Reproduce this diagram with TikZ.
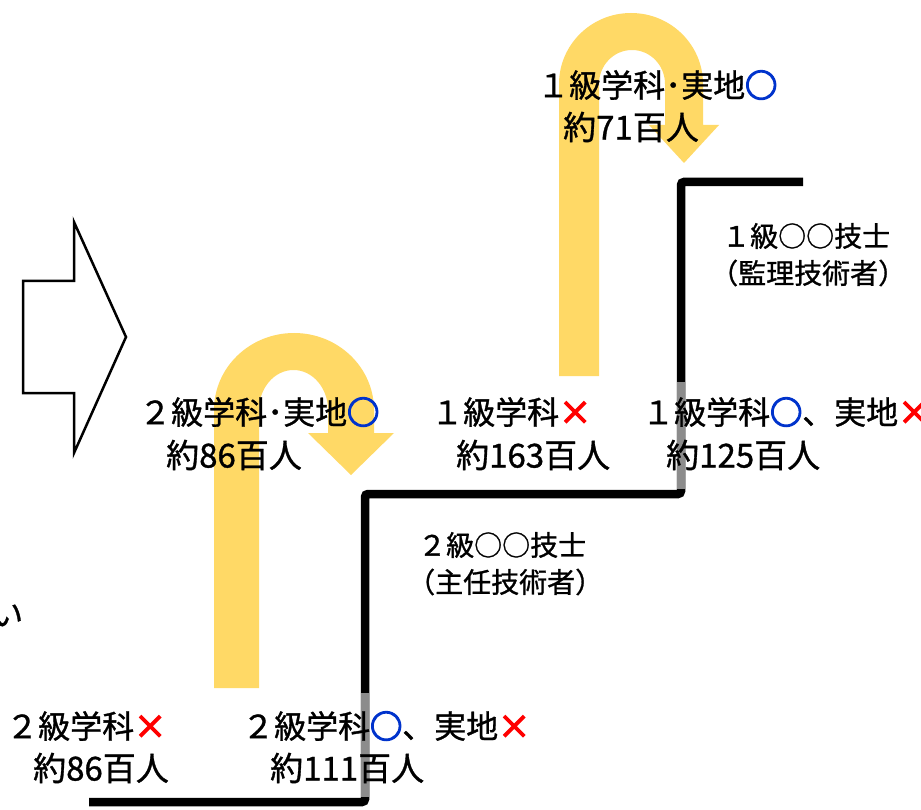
\documentclass[tikz,border=0pt]{standalone}
\usepackage{fontspec}
\setmainfont{Noto Sans CJK JP}[FakeBold=1]
\newfontfamily\jpb[FakeBold=5]{Noto Sans CJK JP}
\definecolor{ublue}{RGB}{0,51,204}
\definecolor{ured}{RGB}{255,0,0}
\definecolor{uyel}{RGB}{255,217,102}
\definecolor{ugray}{RGB}{140,140,140}
\newcommand{\okmark}{{\jpb\color{ublue}○}}
\newcommand{\ngmark}{{\jpb\color{ured}×}}
\begin{document}
\begin{tikzpicture}[x=1pt,y=-1pt,
  cnt/.style={anchor=west,inner sep=0pt,font=\fontsize{32}{38}\selectfont},
  cnttwo/.style={anchor=west,inner sep=0pt,font=\fontsize{33}{39}\selectfont},
  tag/.style={anchor=west,inner sep=0pt,font=\fontsize{28}{33}\selectfont},
  stair/.style={line width=8.5pt,rounded corners=3pt,line cap=butt},
  uturn/.style={fill=uyel,draw=none}]
\useasboundingbox[fill=white] (0,0) rectangle (921,810);
% outline arrow
\draw[line width=2.5pt,fill=white,line join=miter] (23,281) -- (74,281) -- (74,222) -- (126,337) -- (74,453) -- (74,393) -- (23,393) -- cycle;
% stair
\draw[stair] (89,802) -- (365,802) -- (365,494) -- (681,494) -- (681,182) -- (803,182);
\draw[ugray,line width=8.5pt] (365,693) -- (365,797);
\draw[ugray,line width=8.5pt] (681,382) -- (681,489);
% U-turn arrows
\fill[uturn] (214,688) -- (214,410) arc[start angle=180,end angle=0,x radius=80pt,y radius=77pt] -- (374,433) -- (394,433) -- (351,475) -- (308,433) -- (328,433) -- (328,410) arc[start angle=0,end angle=180,x radius=34.5pt,y radius=40pt] -- (259,688) -- cycle;
\fill[uturn] (559,376) -- (559,84) arc[start angle=180,end angle=0,x radius=72pt,y radius=71pt] -- (703,125) -- (719,125) -- (684,163) -- (649,125) -- (665,125) -- (665,84) arc[start angle=0,end angle=180,x radius=33pt,y radius=34pt] -- (599,376) -- cycle;
% count labels
\node[cnt] (a1) at (6,726) {２級学科\ngmark};
\node[cnttwo] (a2) at (33,768) {約86百人};
\node[cnt] (b1) at (242,726) {２級学科\okmark、実地\ngmark};
\node[cnttwo] (b2) at (270,768) {約111百人};
\node[cnt] (c1) at (139,412) {２級学科･実地\okmark};
\node[cnttwo] (c2) at (166,455) {約86百人};
\node[cnt] (d1) at (431,412) {１級学科\ngmark};
\node[cnttwo] (d2) at (456,455) {約163百人};
\node[cnt] (e1) at (642,412) {１級学科\okmark、実地\ngmark};
\node[cnttwo] (e2) at (666,455) {約125百人};
\node[cnt] (f1) at (537,85) {１級学科･実地\okmark};
\node[cnttwo] (f2) at (563,127) {約71百人};
% qualification labels
\node[tag] (g1) at (418,545) {２級○○技士};
\node[tag] (g2) at (407,582) {（主任技術者）};
\node[tag] (h1) at (722,236) {１級○○技士};
\node[tag] (h2) at (710,273) {（監理技術者）};
% truncated text at left edge
\node[cnt] (cut) at (-9,615) {い};
\end{tikzpicture}
\end{document}
